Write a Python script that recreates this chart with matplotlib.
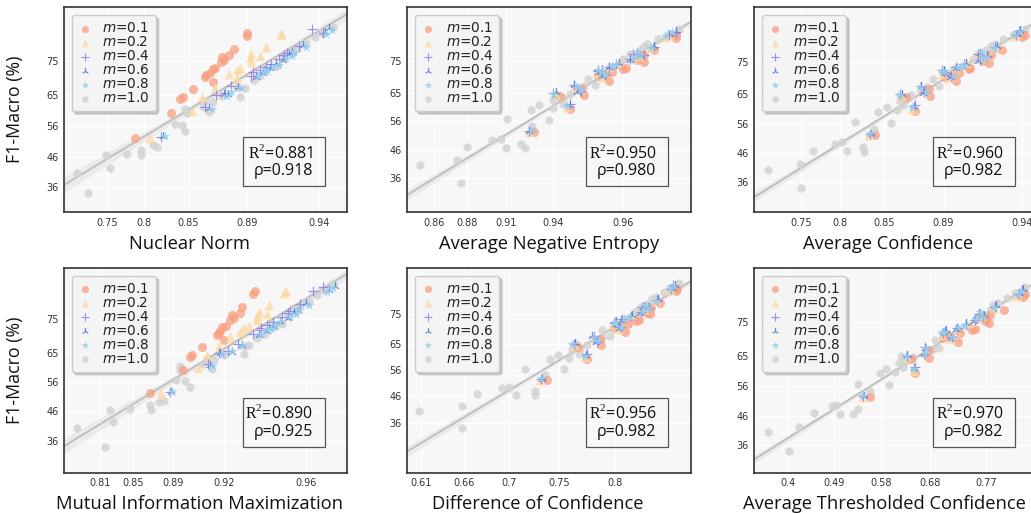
import numpy as np
import matplotlib.pyplot as plt
from matplotlib.patches import Rectangle

plt.rcParams['mathtext.fontset'] = 'custom'
plt.rcParams['mathtext.it'] = 'DejaVu Sans:italic'
plt.rcParams['mathtext.rm'] = 'Liberation Serif'

metrics = ['Nuclear Norm', 'Average Negative Entropy', 'Average Confidence',
           'Mutual Information Maximization', 'Difference of Confidence',
           'Average Thresholded Confidence']
r2 = ['0.881', '0.950', '0.960', '0.890', '0.956', '0.970']
rho = ['0.918', '0.980', '0.982', '0.925', '0.982', '0.982']
m_vals = ['0.1', '0.2', '0.4', '0.6', '0.8', '1.0']
y_ticks = [36, 46, 56, 65, 75]

# F1-Macro (%) of each run, same runs in every panel
f1 = {
    '0.1': [52.2, 59.8, 64.0, 64.4, 66.7, 68.9, 70.3, 70.8, 71.6, 72.6, 72.9, 74.7, 75.2, 76.1, 76.9, 78.5, 82.4, 83.2],
    '0.2': [52.2, 60.4, 64.5, 67.0, 69.9, 71.1, 72.3, 73.0, 74.7, 76.0, 76.6, 77.0, 79.1, 82.7, 83.3],
    '0.4': [52.6, 61.6, 65.0, 65.6, 67.6, 70.5, 71.8, 72.3, 73.2, 74.2, 75.6, 76.8, 77.3, 79.4, 83.2, 84.3],
    '0.6': [52.7, 61.3, 65.2, 65.4, 67.4, 70.3, 71.6, 72.5, 73.0, 74.5, 75.3, 77.0, 77.6, 79.8, 83.5, 84.6],
    '0.8': [52.9, 61.0, 64.8, 65.8, 67.2, 70.6, 72.0, 72.1, 73.4, 74.0, 75.9, 76.5, 77.8, 79.2, 83.0, 84.1],
    '1.0': [34.0, 40.4, 42.3, 46.4, 46.6, 46.9, 48.1, 49.3, 49.7, 54.4, 56.3, 56.6, 59.7, 60.1, 61.1, 61.6, 62.9,
            63.3, 64.6, 64.8, 67.1, 67.4, 69.5, 70.6, 72.7, 73.7, 75.8, 77.3, 78.5, 79.9, 80.4, 82.0, 83.4, 85.1],
}

nuclear = {
    '0.1': [0.789, 0.831, 0.841, 0.844, 0.853, 0.867, 0.861, 0.862, 0.865, 0.867, 0.868, 0.872, 0.874, 0.873, 0.878, 0.881, 0.890, 0.890],
    '0.2': [0.807, 0.852, 0.859, 0.868, 0.883, 0.878, 0.883, 0.885, 0.893, 0.892, 0.899, 0.893, 0.903, 0.914, 0.914],
    '0.4': [0.819, 0.861, 0.869, 0.875, 0.879, 0.893, 0.894, 0.899, 0.903, 0.907, 0.912, 0.916, 0.918, 0.926, 0.943, 0.935],
    '0.6': [0.822, 0.864, 0.874, 0.877, 0.884, 0.896, 0.901, 0.902, 0.906, 0.910, 0.915, 0.919, 0.921, 0.929, 0.944, 0.947],
    '0.8': [0.824, 0.866, 0.876, 0.879, 0.886, 0.898, 0.902, 0.904, 0.908, 0.912, 0.917, 0.921, 0.923, 0.931, 0.945, 0.949],
    '1.0': [0.725, 0.710, 0.755, 0.749, 0.796, 0.778, 0.797, 0.815, 0.811, 0.846, 0.843, 0.835, 0.848, 0.864, 0.846, 0.860, 0.867,
            0.861, 0.885, 0.872, 0.889, 0.883, 0.895, 0.899, 0.903, 0.911, 0.916, 0.921, 0.925, 0.928, 0.931, 0.937, 0.942, 0.950],
}
neg_entropy = {
    '0.1': [0.928, 0.945, 0.942, 0.949, 0.948, 0.956, 0.953, 0.955, 0.957, 0.960, 0.961, 0.966, 0.964, 0.964, 0.966, 0.969, 0.975, 0.975],
    '0.2': [0.925, 0.944, 0.941, 0.946, 0.954, 0.953, 0.953, 0.956, 0.959, 0.963, 0.965, 0.963, 0.968, 0.972, 0.973],
    '0.4': [0.925, 0.945, 0.940, 0.948, 0.946, 0.955, 0.953, 0.953, 0.956, 0.958, 0.962, 0.966, 0.963, 0.969, 0.973, 0.975],
    '0.6': [0.925, 0.945, 0.941, 0.947, 0.946, 0.954, 0.953, 0.954, 0.956, 0.959, 0.962, 0.965, 0.964, 0.969, 0.973, 0.975],
    '0.8': [0.926, 0.944, 0.940, 0.948, 0.947, 0.955, 0.954, 0.953, 0.957, 0.958, 0.963, 0.965, 0.964, 0.968, 0.972, 0.974],
    '1.0': [0.876, 0.851, 0.874, 0.910, 0.922, 0.880, 0.920, 0.899, 0.906, 0.927, 0.938, 0.911, 0.926, 0.940, 0.931, 0.943, 0.940,
            0.943, 0.945, 0.941, 0.949, 0.952, 0.950, 0.954, 0.956, 0.959, 0.960, 0.962, 0.965, 0.966, 0.967, 0.970, 0.973, 0.976],
}
confidence = {
    '0.1': [0.840, 0.871, 0.865, 0.881, 0.880, 0.898, 0.891, 0.895, 0.900, 0.906, 0.907, 0.919, 0.915, 0.915, 0.920, 0.927, 0.940, 0.942],
    '0.2': [0.833, 0.869, 0.862, 0.874, 0.893, 0.889, 0.889, 0.897, 0.905, 0.914, 0.917, 0.912, 0.922, 0.934, 0.936],
    '0.4': [0.834, 0.871, 0.861, 0.877, 0.875, 0.895, 0.890, 0.889, 0.898, 0.903, 0.913, 0.918, 0.912, 0.923, 0.936, 0.938],
    '0.6': [0.835, 0.870, 0.862, 0.876, 0.875, 0.894, 0.891, 0.890, 0.898, 0.904, 0.912, 0.918, 0.913, 0.924, 0.937, 0.939],
    '0.8': [0.834, 0.869, 0.861, 0.878, 0.874, 0.896, 0.891, 0.889, 0.899, 0.903, 0.914, 0.917, 0.914, 0.922, 0.935, 0.938],
    '1.0': [0.750, 0.708, 0.749, 0.827, 0.807, 0.765, 0.826, 0.793, 0.802, 0.838, 0.855, 0.817, 0.843, 0.859, 0.852, 0.863, 0.861,
            0.864, 0.868, 0.861, 0.879, 0.887, 0.883, 0.892, 0.896, 0.902, 0.909, 0.912, 0.917, 0.920, 0.923, 0.928, 0.935, 0.942],
}
mutual_info = {
    '0.1': [0.867, 0.896, 0.900, 0.901, 0.907, 0.920, 0.916, 0.917, 0.918, 0.919, 0.921, 0.923, 0.925, 0.924, 0.928, 0.929, 0.934, 0.935],
    '0.2': [0.878, 0.905, 0.910, 0.917, 0.923, 0.928, 0.930, 0.932, 0.936, 0.936, 0.941, 0.937, 0.942, 0.949, 0.950],
    '0.4': [0.887, 0.911, 0.917, 0.922, 0.927, 0.934, 0.938, 0.938, 0.941, 0.944, 0.948, 0.951, 0.952, 0.957, 0.963, 0.968],
    '0.6': [0.888, 0.912, 0.918, 0.924, 0.929, 0.937, 0.941, 0.942, 0.944, 0.947, 0.951, 0.954, 0.956, 0.960, 0.971, 0.974],
    '0.8': [0.889, 0.913, 0.919, 0.924, 0.929, 0.938, 0.941, 0.943, 0.945, 0.947, 0.952, 0.955, 0.956, 0.961, 0.970, 0.973],
    '1.0': [0.815, 0.781, 0.826, 0.822, 0.868, 0.846, 0.867, 0.876, 0.881, 0.900, 0.897, 0.892, 0.894, 0.913, 0.894, 0.908, 0.914,
            0.910, 0.920, 0.930, 0.931, 0.932, 0.936, 0.940, 0.945, 0.948, 0.951, 0.955, 0.957, 0.960, 0.961, 0.965, 0.968, 0.973],
}
diff_conf = {
    '0.1': [0.738, 0.775, 0.767, 0.788, 0.787, 0.809, 0.799, 0.806, 0.812, 0.819, 0.822, 0.832, 0.829, 0.826, 0.833, 0.841, 0.855, 0.856],
    '0.2': [0.731, 0.773, 0.764, 0.781, 0.803, 0.799, 0.801, 0.806, 0.816, 0.824, 0.829, 0.825, 0.837, 0.849, 0.851],
    '0.4': [0.732, 0.775, 0.763, 0.784, 0.781, 0.805, 0.799, 0.800, 0.807, 0.815, 0.824, 0.831, 0.825, 0.838, 0.851, 0.853],
    '0.6': [0.733, 0.774, 0.764, 0.783, 0.780, 0.804, 0.800, 0.801, 0.806, 0.816, 0.823, 0.830, 0.826, 0.839, 0.852, 0.854],
    '0.8': [0.732, 0.773, 0.762, 0.785, 0.781, 0.806, 0.800, 0.800, 0.808, 0.814, 0.825, 0.830, 0.827, 0.837, 0.850, 0.853],
    '1.0': [0.657, 0.608, 0.658, 0.726, 0.707, 0.671, 0.726, 0.694, 0.700, 0.736, 0.754, 0.716, 0.741, 0.759, 0.749, 0.768, 0.762,
            0.769, 0.775, 0.765, 0.789, 0.796, 0.789, 0.801, 0.808, 0.814, 0.819, 0.824, 0.831, 0.834, 0.837, 0.844, 0.850, 0.858],
}
thr_conf = {
    '0.1': [0.559, 0.649, 0.641, 0.679, 0.679, 0.724, 0.701, 0.712, 0.728, 0.747, 0.752, 0.775, 0.768, 0.770, 0.776, 0.798, 0.828, 0.832],
    '0.2': [0.543, 0.647, 0.633, 0.669, 0.712, 0.700, 0.704, 0.721, 0.744, 0.753, 0.763, 0.757, 0.782, 0.817, 0.821],
    '0.4': [0.545, 0.649, 0.632, 0.668, 0.670, 0.715, 0.701, 0.704, 0.723, 0.737, 0.752, 0.765, 0.758, 0.784, 0.821, 0.827],
    '0.6': [0.546, 0.648, 0.633, 0.667, 0.669, 0.714, 0.702, 0.705, 0.722, 0.738, 0.751, 0.766, 0.759, 0.785, 0.822, 0.828],
    '0.8': [0.544, 0.647, 0.631, 0.669, 0.671, 0.716, 0.700, 0.703, 0.724, 0.736, 0.753, 0.764, 0.760, 0.783, 0.820, 0.826],
    '1.0': [0.403, 0.361, 0.422, 0.525, 0.501, 0.451, 0.536, 0.485, 0.494, 0.559, 0.596, 0.536, 0.577, 0.608, 0.590, 0.625, 0.617,
            0.626, 0.646, 0.621, 0.685, 0.695, 0.688, 0.712, 0.725, 0.739, 0.752, 0.763, 0.776, 0.781, 0.789, 0.803, 0.816, 0.832],
}
panel_x = [nuclear, neg_entropy, confidence, mutual_info, diff_conf, thr_conf]

x_ticks = [[0.75, 0.8, 0.85, 0.89, 0.94],
           [0.86, 0.88, 0.91, 0.94, 0.96],
           [0.75, 0.8, 0.85, 0.89, 0.94],
           [0.81, 0.85, 0.89, 0.92, 0.96],
           [0.61, 0.66, 0.7, 0.75, 0.8],
           [0.4, 0.49, 0.58, 0.68, 0.77]]

# axes are stretched (non-linear), where each tick sits as a fraction of the axes
x_tick_pos = [[0.151, 0.281, 0.440, 0.646, 0.900],
              [0.096, 0.212, 0.348, 0.513, 0.761],
              [0.165, 0.304, 0.458, 0.668, 0.945],
              [0.129, 0.243, 0.385, 0.564, 0.856],
              [0.048, 0.201, 0.359, 0.536, 0.732],
              [0.118, 0.282, 0.449, 0.620, 0.819]]
y_tick_pos = [[0.125, 0.271, 0.420, 0.571, 0.737],
              [0.169, 0.306, 0.444, 0.582, 0.737],
              [0.146, 0.288, 0.431, 0.576, 0.735],
              [0.154, 0.300, 0.441, 0.583, 0.750],
              [0.244, 0.373, 0.500, 0.630, 0.777],
              [0.135, 0.279, 0.425, 0.571, 0.737]]
xlabel_x = [0.445, 0.5, 0.473, 0.477, 0.461, 0.459]

styles = {
    '0.1': dict(marker='o', s=42, color='#f79f80', alpha=0.75, linewidths=0),
    '0.2': dict(marker='^', s=48, color='#fdd7a0', alpha=0.75, linewidths=0),
    '0.4': dict(marker='+', s=42, color='#8a7cf0', alpha=0.85, linewidths=0.8),
    '0.6': dict(marker='2', s=42, color='#5a7ed6', alpha=0.9, linewidths=0.9),
    '0.8': dict(marker='*', s=55, color='#94d0ee', alpha=0.85, linewidths=0),
    '1.0': dict(marker='h', s=42, color='#d3d3d3', alpha=0.85, linewidths=0),
}
zorders = {'0.1': 3, '0.2': 3, '0.4': 4, '0.6': 4, '0.8': 4, '1.0': 2}


def piecewise(src, dst):
    src = np.asarray(src, float)
    dst = np.asarray(dst, float)
    k0 = (dst[1] - dst[0]) / (src[1] - src[0])
    k1 = (dst[-1] - dst[-2]) / (src[-1] - src[-2])

    def f(v):
        v = np.asarray(v, float)
        out = np.interp(v, src, dst)
        out = np.where(v < src[0], dst[0] + (v - src[0]) * k0, out)
        out = np.where(v > src[-1], dst[-1] + (v - src[-1]) * k1, out)
        return out
    return f


fig = plt.figure(figsize=(10.31, 5.14), dpi=100)
lefts = [0.062, 0.395, 0.7316]
bottoms = [0.587, 0.080]
w, h = 0.2748, 0.399

for i in range(6):
    ax = fig.add_axes([lefts[i % 3], bottoms[i // 3], w, h])
    ax.set_facecolor('#f7f7f7')
    fx, ix = piecewise(x_ticks[i], x_tick_pos[i]), piecewise(x_tick_pos[i], x_ticks[i])
    fy, iy = piecewise(y_ticks, y_tick_pos[i]), piecewise(y_tick_pos[i], y_ticks)
    ax.set_xscale('function', functions=(fx, ix))
    ax.set_yscale('function', functions=(fy, iy))
    ax.set_xlim(float(ix(0)), float(ix(1)))
    ax.set_ylim(float(iy(0)), float(iy(1)))

    data = panel_x[i]
    for m in m_vals:
        ax.scatter(data[m], f1[m], label=f'$m$={m}', zorder=zorders[m], **styles[m])

    # regression in the plotted (stretched) space
    xs = fx(np.concatenate([data[m] for m in m_vals]))
    ys = fy(np.concatenate([f1[m] for m in m_vals]))
    a, b = np.polyfit(xs, ys, 1)
    res = ys - (a * xs + b)
    s = np.sqrt(np.sum(res ** 2) / (len(xs) - 2))
    grid = np.linspace(0, 1, 200)
    se = s * np.sqrt(1 / len(xs) + (grid - xs.mean()) ** 2 / np.sum((xs - xs.mean()) ** 2))
    line = a * grid + b
    ax.fill_between(ix(grid), iy(line - 1.96 * se), iy(line + 1.96 * se),
                    color='#cccccc', alpha=0.3, lw=0, zorder=1)
    ax.plot(ix(grid), iy(line), color='#bdbdbd', lw=1.3, zorder=1.5)

    ax.set_xticks(x_ticks[i])
    ax.set_xticklabels([f'{v:g}' for v in x_ticks[i]])
    ax.set_yticks(y_ticks)
    ax.set_yticklabels([str(v) for v in y_ticks])
    ax.tick_params(length=0, labelsize=7, colors='#333333', pad=4)
    ax.grid(True, color='white', lw=0.9, zorder=0)
    ax.set_axisbelow(True)
    for sp in ax.spines.values():
        sp.set_color('#333333')
        sp.set_linewidth(1.2)

    ax.set_xlabel(metrics[i], family='Open Sans', fontsize=13.2, color='#111111')
    ax.xaxis.set_label_coords(xlabel_x[i], -0.11)
    if i % 3 == 0:
        ax.set_ylabel('F1-Macro (%)', family='Open Sans', fontsize=12.8, color='#111111')
        ax.yaxis.set_label_coords(-0.14, 0.5)

    leg = ax.legend(loc='upper left', bbox_to_anchor=(0.027, 0.962), borderaxespad=0,
                    fontsize=9.8, labelspacing=0.0, handlelength=1.0, handletextpad=0.8,
                    borderpad=0.45, markerscale=0.8, fancybox=True, framealpha=1,
                    shadow={'color': '#bbbbbb', 'alpha': 0.8})
    leg.get_frame().set_facecolor('#f4f4f4')
    leg.get_frame().set_edgecolor('#cccccc')
    for t in leg.get_texts():
        t.set_color('#222222')
    leg.set_zorder(6)

    ax.add_patch(Rectangle((0.632, 0.128), 0.29, 0.238, transform=ax.transAxes,
                           fill=False, ec='#555555', lw=0.9, zorder=6))
    ax.text(0.88, 0.29, r'$\mathrm{R}^2$=' + r2[i], transform=ax.transAxes, ha='right',
            va='center', family=['Open Sans', 'DejaVu Sans'], fontsize=11.5, color='#111111', zorder=7)
    ax.text(0.88, 0.20, 'ρ=' + rho[i], transform=ax.transAxes, ha='right',
            va='center', family=['Open Sans', 'DejaVu Sans'], fontsize=11.5, color='#111111', zorder=7)

fig.savefig('out.png', dpi=100)
